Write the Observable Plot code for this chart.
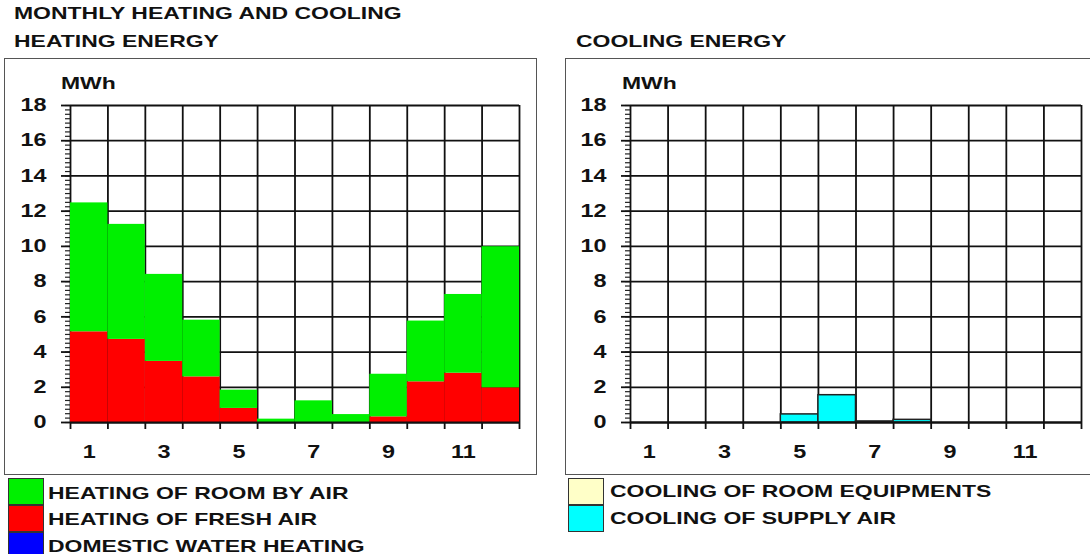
<!DOCTYPE html>
<html><head><meta charset="utf-8">
<script src="https://cdn.jsdelivr.net/npm/d3@7"></script>
<script src="https://cdn.jsdelivr.net/npm/@observablehq/plot@0.6"></script>
<style>
html,body{margin:0;padding:0;background:#fff;}
body{width:1090px;height:554px;overflow:hidden;position:relative;font-family:"Liberation Sans",Arial,sans-serif;font-weight:bold;color:#111;}
.t{position:absolute;white-space:nowrap;font-size:17px;line-height:1;transform:scaleX(1.35);transform-origin:0 0;}
.frame{position:absolute;border:1.5px solid #555;box-sizing:border-box;}
.sw{position:absolute;width:36px;height:27px;box-sizing:border-box;border:1.5px solid #333;}
.plot{position:absolute;top:0;}
</style></head><body>
<div id="root"></div>
<script>
// ---- data ----
const months = [1, 2, 3, 4, 5, 6, 7, 8, 9, 10, 11, 12];
const heatingRoomByAir   = [7.32, 6.53, 4.94, 3.22, 1.04, 0.19, 1.23, 0.45, 2.42, 3.45, 4.47, 8.01];
const heatingFreshAir    = [5.15, 4.72, 3.47, 2.59, 0.80, 0.00, 0.00, 0.00, 0.32, 2.31, 2.80, 1.97];
const domesticWater      = [0, 0, 0, 0, 0, 0, 0, 0, 0, 0, 0, 0];
const coolingRoomEquip   = [0, 0, 0, 0, 0, 0, 0, 0, 0, 0, 0, 0];
const coolingSupplyAir   = [0, 0, 0, 0, 0.46, 1.55, 0.06, 0.15, 0, 0, 0, 0];
const yTicks = [0, 2, 4, 6, 8, 10, 12, 14, 16, 18];
const xLabelTicks = [1, 3, 5, 7, 9, 11];
const heatingSeries = ["HEATING OF ROOM BY AIR", "HEATING OF FRESH AIR", "DOMESTIC WATER HEATING"];
const heatingColors = ["#00f000", "#ff0000", "#0000ff"];
const coolingSeries = ["COOLING OF ROOM EQUIPMENTS", "COOLING OF SUPPLY AIR"];
const coolingColors = ["#ffffc8", "#00ffff"];

// month boundaries and minor ticks (derived)
const bounds = d3.range(0.5, 12.51, 1);
const minorTicks = d3.range(0, 18.001, 0.25);

function rows(seriesNames, valuesList, order) {
  const out = [];
  for (const k of order) {
    months.forEach((m, i) => {
      out.push({series: seriesNames[k], x1: m - 0.5, x2: m + 0.5, value: valuesList[k][i]});
    });
  }
  return out.filter(d => d.value > 0);
}
const heatingData = rows(heatingSeries, [heatingRoomByAir, heatingFreshAir, domesticWater], [1, 0, 2]);
const coolingData = rows(coolingSeries, [coolingRoomEquip, coolingSupplyAir], [1, 0]);

const gridStyle = {stroke: "#111", strokeOpacity: 1, strokeWidth: 1.8};

function panel(data, names, colors, barStroke, left, width, marginRight) {
  const svg = Plot.plot({
    width: width, height: 480,
    marginLeft: 70, marginRight: marginRight, marginTop: 105, marginBottom: 58,
    style: {fontSize: "18px", fontWeight: "bold", fontFamily: "'Liberation Sans', Arial, sans-serif", color: "#111", background: "transparent", overflow: "visible"},
    x: {type: "linear", domain: [0.5, 12.5]},
    y: {domain: [0, 18]},
    color: {domain: names, range: colors},
    marks: [
      Plot.gridX(bounds, gridStyle),
      Plot.gridY(yTicks, gridStyle),
      Plot.rectY(data, {x1: "x1", x2: "x2", y: "value", fill: "series", stroke: barStroke, strokeWidth: 1.5}),
      Plot.ruleY([0], {stroke: "#111", strokeWidth: 1.8}),
      Plot.axisY(minorTicks, {tickSize: 5, tickFormat: () => "", label: null, stroke: "#222", strokeWidth: 1.2}),
      Plot.axisY(yTicks, {tickSize: 9, tickPadding: 15, label: null, stroke: "#111", strokeWidth: 1.8}),
      Plot.axisX(bounds, {tickSize: 7, tickFormat: () => "", label: null, stroke: "#111", strokeWidth: 1.8}),
      Plot.axisX(xLabelTicks, {tickSize: 0, tickPadding: 23, label: null})
    ]
  });
  svg.classList.add("plot");
  svg.style.left = left + "px";
  d3.select(svg).selectAll("text").each(function() {
    let t = this.getAttribute("transform");
    if (!t) {
      const x = this.getAttribute("x") || 0, y = this.getAttribute("y") || 0;
      this.removeAttribute("x"); this.removeAttribute("y");
      t = `translate(${x},${y})`;
    }
    this.setAttribute("transform", t + " scale(1.3,1)");
  });
  return svg;
}

const root = document.getElementById("root");
function addDiv(cls, styles, text) {
  const d = document.createElement("div");
  d.className = cls;
  Object.assign(d.style, styles);
  if (text) d.textContent = text;
  root.appendChild(d);
  return d;
}

// frames
addDiv("frame", {left: "4px", top: "58px", width: "533px", height: "417px"});
addDiv("frame", {left: "565px", top: "58px", width: "540px", height: "417px"});

root.appendChild(panel(heatingData, heatingSeries, heatingColors, "none", 0, 540, 21));
root.appendChild(panel(coolingData, coolingSeries, coolingColors, "#222", 560, 530, 9));

// titles
addDiv("t", {left: "14px", top: "5px"}, "MONTHLY HEATING AND COOLING");
addDiv("t", {left: "14px", top: "33px"}, "HEATING ENERGY");
addDiv("t", {left: "576px", top: "33px"}, "COOLING ENERGY");
addDiv("t", {left: "61px", top: "74.5px"}, "MWh");
addDiv("t", {left: "622px", top: "74.5px"}, "MWh");

// legends
heatingSeries.forEach((s, i) => {
  addDiv("sw", {left: "8px", top: (478 + i * 27) + "px", background: heatingColors[i]});
  addDiv("t", {left: "48px", top: (484.5 + i * 26.7) + "px"}, s);
});
coolingSeries.forEach((s, i) => {
  addDiv("sw", {left: "568px", top: (478 + i * 27) + "px", background: coolingColors[i]});
  addDiv("t", {left: "610px", top: (483 + i * 26.7) + "px"}, s);
});
</script>
</body></html>
